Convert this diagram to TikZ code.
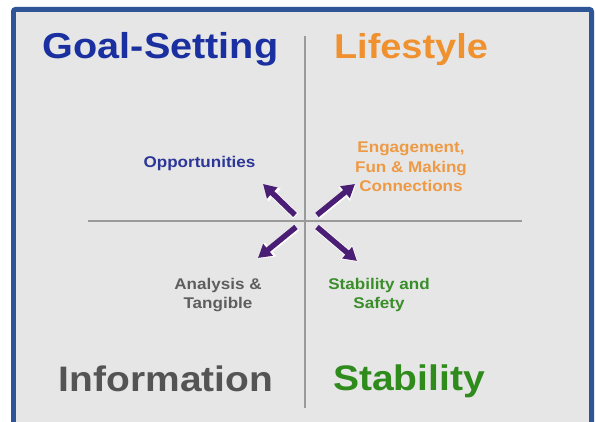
\documentclass[tikz,border=0pt]{standalone}
\usepackage{fontspec}
\setmainfont{Liberation Sans}
\newfontfamily\lblfont{Liberation Sans Bold}[FakeStretch=1.1]
\usetikzlibrary{arrows.meta}
\definecolor{framebl}{HTML}{2F5597}
\definecolor{panelgray}{HTML}{E6E6E6}
\definecolor{gridgray}{HTML}{9A9A9A}
\definecolor{goalblue}{HTML}{1A2FA0}
\definecolor{oppblue}{HTML}{2C3696}
\definecolor{lifeorange}{HTML}{F0912F}
\definecolor{engorange}{HTML}{EE9A45}
\definecolor{infogray}{HTML}{545454}
\definecolor{anagray}{HTML}{5E5E5E}
\definecolor{stabgreen}{HTML}{2E8B1C}
\definecolor{safegreen}{HTML}{3A8E2A}
\definecolor{arrowpurple}{HTML}{4A1E74}
\tikzset{
  biglabel/.style={inner sep=0pt, anchor=base},
  smalllabel/.style={inner sep=0pt, align=center, font=\lblfont\fontsize{15.5}{19.5}\selectfont},
  gridline/.style={draw=gridgray, line width=1.5pt},
  halo/.style={draw=white, line width=7pt, -{Triangle[width=17pt,length=15pt]}, white},
  purplearrow/.style={draw=arrowpurple, line width=5.5pt, -{Triangle[width=14.5pt,length=13pt]}, arrowpurple}
}
\begin{document}
\begin{tikzpicture}[x=1pt,y=1pt]
\useasboundingbox (0,0) rectangle (596,422);
\fill[white] (0,0) rectangle (596,422);
% frame
\fill[framebl, rounded corners=4pt] (11,-10) rectangle (594,415);
\fill[panelgray] (16,0) rectangle (589,410);
% grid lines
\coordinate (vtop) at (305,386);
\coordinate (vbot) at (305,14);
\coordinate (hleft) at (88,201);
\coordinate (hright) at (522,201);
\draw[gridline] (vtop) -- (vbot);
\draw[gridline] (hleft) -- (hright);
% quadrant titles
\node[biglabel, text=goalblue, font=\lblfont\fontsize{36}{40}\selectfont] (goal) at (160.5,363) {Goal-Setting};
\node[biglabel, text=lifeorange, font=\lblfont\fontsize{34.5}{40}\selectfont] (life) at (411,363) {Lifestyle};
\node[biglabel, text=infogray, font=\lblfont\fontsize{35.4}{40}\selectfont] (info) at (166,30) {Information};
\node[biglabel, text=stabgreen, font=\lblfont\fontsize{35.5}{40}\selectfont] (stab) at (409,31) {Stability};
% small labels
\node[smalllabel, text=oppblue, anchor=base] (opp) at (199.5,254) {Opportunities};
\node[smalllabel, text=engorange, anchor=north] (eng) at (411,280) {Engagement,\\Fun \& Making\\Connections};
\node[smalllabel, text=anagray, anchor=north] (ana) at (218,144) {Analysis \&\\Tangible};
\node[smalllabel, text=safegreen, anchor=north] (safe) at (379,144) {Stability and\\Safety};
% arrows
\coordinate (nwtail) at (295,207);
\coordinate (nwtip) at (263,238);
\coordinate (netail) at (317,207);
\coordinate (netip) at (355,238);
\coordinate (swtail) at (296,195);
\coordinate (swtip) at (258,164);
\coordinate (setail) at (317,195);
\coordinate (setip) at (357,161);
\foreach \a/\b in {nwtail/nwtip, netail/netip, swtail/swtip, setail/setip}{
  \draw[halo, transform canvas={xshift=0.8pt, yshift=-0.8pt}] (\a) -- (\b);
}
\foreach \a/\b in {nwtail/nwtip, netail/netip, swtail/swtip, setail/setip}{
  \draw[purplearrow] (\a) -- (\b);
}
\end{tikzpicture}
\end{document}
